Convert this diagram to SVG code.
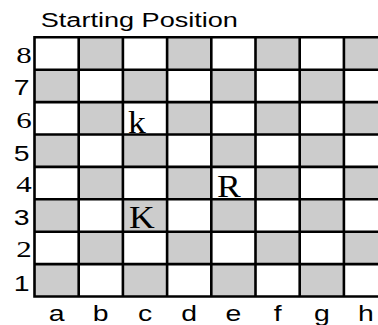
<svg xmlns="http://www.w3.org/2000/svg" width="378" height="325" viewBox="0 0 378 325">
<style>
.g{fill:#cccccc}
.ln{stroke:#000;stroke-width:2.6;fill:none}
.sans{font-family:"Liberation Sans",Arial,sans-serif;fill:#000}
.serif{font-family:"Liberation Serif","Times New Roman",serif;fill:#000}
</style>
<rect width="378" height="325" fill="#fff"/>
<text class="sans" x="31.6" y="27.3" font-size="21" transform="scale(1.29,1)">Starting Position</text>
<g id="board">
<g id="gray-squares">
<!-- rank 8 -->
<rect class="g" x="78.7" y="37.3" width="44.2" height="32.4"/>
<rect class="g" x="167.1" y="37.3" width="44.2" height="32.4"/>
<rect class="g" x="255.5" y="37.3" width="44.2" height="32.4"/>
<rect class="g" x="343.9" y="37.3" width="44.2" height="32.4"/>
<!-- rank 7 -->
<rect class="g" x="34.5" y="69.7" width="44.2" height="32.4"/>
<rect class="g" x="122.9" y="69.7" width="44.2" height="32.4"/>
<rect class="g" x="211.3" y="69.7" width="44.2" height="32.4"/>
<rect class="g" x="299.7" y="69.7" width="44.2" height="32.4"/>
<!-- rank 6 -->
<rect class="g" x="78.7" y="102.1" width="44.2" height="32.4"/>
<rect class="g" x="167.1" y="102.1" width="44.2" height="32.4"/>
<rect class="g" x="255.5" y="102.1" width="44.2" height="32.4"/>
<rect class="g" x="343.9" y="102.1" width="44.2" height="32.4"/>
<!-- rank 5 -->
<rect class="g" x="34.5" y="134.5" width="44.2" height="32.4"/>
<rect class="g" x="122.9" y="134.5" width="44.2" height="32.4"/>
<rect class="g" x="211.3" y="134.5" width="44.2" height="32.4"/>
<rect class="g" x="299.7" y="134.5" width="44.2" height="32.4"/>
<!-- rank 4 -->
<rect class="g" x="78.7" y="166.9" width="44.2" height="32.4"/>
<rect class="g" x="167.1" y="166.9" width="44.2" height="32.4"/>
<rect class="g" x="255.5" y="166.9" width="44.2" height="32.4"/>
<rect class="g" x="343.9" y="166.9" width="44.2" height="32.4"/>
<!-- rank 3 -->
<rect class="g" x="34.5" y="199.3" width="44.2" height="32.4"/>
<rect class="g" x="122.9" y="199.3" width="44.2" height="32.4"/>
<rect class="g" x="211.3" y="199.3" width="44.2" height="32.4"/>
<rect class="g" x="299.7" y="199.3" width="44.2" height="32.4"/>
<!-- rank 2 -->
<rect class="g" x="78.7" y="231.7" width="44.2" height="32.4"/>
<rect class="g" x="167.1" y="231.7" width="44.2" height="32.4"/>
<rect class="g" x="255.5" y="231.7" width="44.2" height="32.4"/>
<rect class="g" x="343.9" y="231.7" width="44.2" height="32.4"/>
<!-- rank 1 -->
<rect class="g" x="34.5" y="264.1" width="44.2" height="32.4"/>
<rect class="g" x="122.9" y="264.1" width="44.2" height="32.4"/>
<rect class="g" x="211.3" y="264.1" width="44.2" height="32.4"/>
<rect class="g" x="299.7" y="264.1" width="44.2" height="32.4"/>
</g>
<path id="grid" class="ln" d="M34.5 37.3H390 M34.5 69.7H390 M34.5 102.1H390 M34.5 134.5H390 M34.5 166.9H390 M34.5 199.3H390 M34.5 231.7H390 M34.5 264.1H390 M34.5 296.5H390 M34.5 36V297.8 M78.7 36V297.8 M122.9 36V297.8 M167.1 36V297.8 M211.3 36V297.8 M255.5 36V297.8 M299.7 36V297.8 M343.9 36V297.8"/>
</g>
<g id="rank-labels">
<g transform="scale(1.29,1)" font-size="24" class="serif" text-anchor="middle">
<text x="18.6" y="63">8</text>
<text x="18.6" y="128">6</text>
<text x="18.6" y="192.5">4</text>
<text x="18.6" y="257.3">2</text>
</g>
<g transform="scale(1.29,1)" font-size="22" class="sans" text-anchor="middle">
<text x="16.7" y="95.3">7</text>
<text x="16.7" y="160.8">5</text>
<text x="16.7" y="224.6">3</text>
<text x="16.7" y="291">1</text>
</g>
</g>
<g id="file-labels" transform="scale(1.29,1)" font-size="22" class="sans" text-anchor="middle">
<text x="43.9" y="321.5">a</text>
<text x="78.1" y="321.5">b</text>
<text x="112.4" y="321.5">c</text>
<text x="146.7" y="321.5">d</text>
<text x="180.9" y="321.5">e</text>
<text x="215.2" y="321.5">f</text>
<text x="249.5" y="321.5">g</text>
<text x="283.7" y="321.5">h</text>
</g>
<g id="pieces" class="serif" font-size="31">
<g id="black-king"><text transform="scale(1.15,1)" x="111.3" y="133.3">k</text></g>
<g id="white-king"><text transform="scale(1.15,1)" x="112.2" y="228.3">K</text></g>
<g id="white-rook"><text transform="scale(1.15,1)" x="188.7" y="196.7">R</text></g>
</g>
</svg>
